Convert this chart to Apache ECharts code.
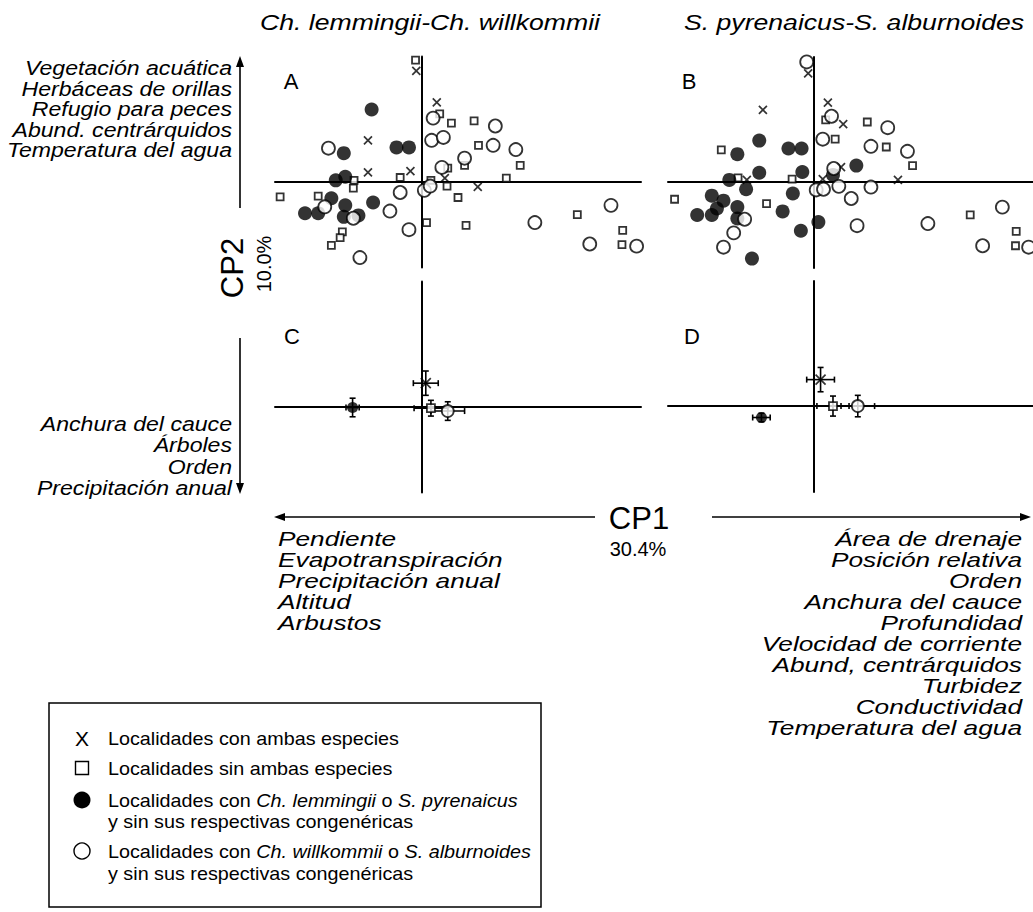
<!DOCTYPE html>
<html>
<head>
<meta charset="utf-8">
<script src="https://cdn.jsdelivr.net/npm/echarts@6/dist/echarts.min.js"></script>
<style>
html,body{margin:0;padding:0;background:#fff}
#chart{width:1033px;height:912px}
</style>
</head>
<body>
<div id="chart"></div>
<script>
// PCA scores [CP1, CP2] of each locality, Chondrostoma pair (panel A)
const aBoth = [[-0.07,1.55],[0.21,1.11],[-0.73,0.58],[-0.73,0.13],[-0.15,0.15],[0.32,0.05],[0.77,-0.07]];
const aNone = [[-0.08,1.70],[-0.92,0.02],[-0.93,-0.09],[-0.29,0.06],[0.13,0.02],[0.35,-0.06],[0.25,0.95],[0.41,0.82],[-1.93,-0.21],[-1.41,-0.20],[-1.08,-0.70],[-1.11,-0.78],[-1.23,-0.89],[0.07,-0.57],[0.36,0.19],[0.72,0.85],[0.78,0.51],[0.59,0.23],[1.35,0.23],[1.16,0.05],[0.50,-0.22],[0.61,-0.61],[2.13,-0.46],[2.75,-0.68],[2.74,-0.88]];
const aFirst = [[-0.68,1.01],[-1.06,0.40],[-0.34,0.48],[-0.17,0.48],[-1.17,0.02],[-1.04,0.07],[-1.23,-0.23],[-1.04,-0.33],[-1.59,-0.44],[-1.41,-0.44],[-1.06,-0.49],[-0.86,-0.47],[-0.66,-0.29]];
const aSecond = [[-1.27,0.47],[-1.32,-0.35],[-0.93,-0.51],[-0.43,-0.41],[-0.29,-0.15],[-0.17,-0.67],[-0.84,-1.06],[0.16,0.89],[0.14,0.58],[0.30,0.62],[0.28,0.20],[0.04,-0.12],[0.12,-0.06],[1.01,0.78],[0.98,0.51],[1.29,0.45],[0.59,0.33],[1.55,-0.57],[2.59,-0.33],[2.30,-0.87],[2.94,-0.90]];

// PCA scores [CP1, CP2] of each locality, Squalius pair (panel B)
const bBoth = [[-0.08,1.52],[-0.70,1.01],[0.19,1.11],[0.40,0.81],[-0.92,0.03],[0.12,0.04],[0.37,0.21],[1.15,0.03]];
const bNone = [[-1.27,0.45],[-1.04,0.06],[-1.91,-0.24],[-0.65,-0.30],[-0.30,0.04],[0.29,0.60],[0.16,0.87],[0.73,0.84],[0.99,0.49],[1.35,0.23],[2.14,-0.46],[2.77,-0.69],[2.76,-0.89]];
const bFirst = [[-0.75,0.58],[-1.05,0.39],[-0.35,0.47],[-0.17,0.47],[-0.75,0.13],[-0.16,0.14],[-1.16,0.03],[-0.93,-0.10],[-0.29,-0.16],[-1.40,-0.19],[-1.24,-0.26],[-1.05,-0.35],[-1.60,-0.46],[-1.40,-0.46],[-1.33,-0.37],[-1.05,-0.51],[-0.43,-0.41],[-0.18,-0.68],[0.06,-0.56],[-0.85,-1.07],[0.58,0.23],[0.26,0.10]];
const bSecond = [[-0.10,1.68],[0.24,0.92],[0.12,0.60],[0.27,0.19],[0.34,-0.06],[0.03,-0.11],[0.13,-0.10],[-0.95,-0.52],[-1.10,-0.71],[-1.24,-0.91],[0.51,-0.23],[1.01,0.76],[0.78,0.50],[1.28,0.43],[0.78,-0.07],[0.59,-0.61],[1.56,-0.58],[2.58,-0.35],[2.31,-0.89],[2.94,-0.91]];

// Group means [CP1, CP2, error CP1, error CP2] (panels C and D)
const cBoth = [0.06, 0.33, 0.17, 0.17];
const cNone = [0.13, -0.02, 0.23, 0.11];
const cFirst = [-0.94, -0.01, 0.09, 0.13];
const cSecond = [0.36, -0.06, 0.23, 0.13];
const dBoth = [0.09, 0.37, 0.19, 0.17];
const dNone = [0.26, 0.00, 0.22, 0.14];
const dFirst = [-0.72, -0.16, 0.12, 0.06];
const dSecond = [0.60, 0.00, 0.23, 0.15];

// Text
const panelTitles = ['Ch. lemmingii-Ch. willkommii', 'S. pyrenaicus-S. alburnoides'];
const panelLetters = ['A', 'B', 'C', 'D'];
const cp2PositiveVars = ['Vegetación acuática', 'Herbáceas de orillas', 'Refugio para peces', 'Abund. centrárquidos', 'Temperatura del agua'];
const cp2NegativeVars = ['Anchura del cauce', 'Árboles', 'Orden', 'Precipitación anual'];
const cp1NegativeVars = ['Pendiente', 'Evapotranspiración', 'Precipitación anual', 'Altitud', 'Arbustos'];
const cp1PositiveVars = ['Área de drenaje', 'Posición relativa', 'Orden', 'Anchura del cauce', 'Profundidad', 'Velocidad de corriente', 'Abund, centrárquidos', 'Turbidez', 'Conductividad', 'Temperatura del agua'];
const cp1Label = ['CP1', '30.4%'];
const cp2Label = ['CP2', '10.0%'];

const FONT = '"Liberation Sans", Arial, Helvetica, sans-serif';

const chart = echarts.init(document.getElementById('chart'), null, {renderer: 'svg'});

const grids = [
  {left: 275, top: 56.6, width: 366, height: 211},
  {left: 668, top: 56.9, width: 366, height: 211},
  {left: 275, top: 281.6, width: 366, height: 211},
  {left: 668, top: 280.9, width: 366, height: 211}
];

function xAx(i) {
  return {type: 'value', gridIndex: i, min: -2, max: 3,
    axisLine: {show: true, onZero: true, lineStyle: {color: '#000', width: 2}},
    axisTick: {show: false}, axisLabel: {show: false}, splitLine: {show: false}};
}
function yAx(i) {
  return {type: 'value', gridIndex: i, min: -1.2, max: 1.75,
    axisLine: {show: true, onZero: true, lineStyle: {color: '#000', width: 2}},
    axisTick: {show: false}, axisLabel: {show: false}, splitLine: {show: false}};
}

const CROSS = 'path://M0,0L10,10M10,0L0,10';
const styles = {
  none: {symbol: 'rect', size: 7, itemStyle: {color: '#fff', borderColor: '#000', borderWidth: 1.8}},
  both: {symbol: CROSS, size: 8, itemStyle: {color: 'rgba(0,0,0,0)', borderColor: '#000', borderWidth: 1.7}},
  first: {symbol: 'circle', size: 14, itemStyle: {color: '#000', borderColor: '#000', borderWidth: 0}},
  second: {symbol: 'circle', size: 13, itemStyle: {color: '#fff', borderColor: '#000', borderWidth: 1.8}}
};

function scatter(grid, data, kind, sizeOverride) {
  const s = styles[kind];
  return {type: 'scatter', xAxisIndex: grid, yAxisIndex: grid, data: data,
    symbol: s.symbol, symbolSize: sizeOverride || s.size, itemStyle: s.itemStyle,
    silent: true, animation: false, z: 3};
}

function errorBars(grid, rows) {
  return {type: 'custom', xAxisIndex: grid, yAxisIndex: grid, data: rows, silent: true, animation: false, z: 2,
    renderItem: function (params, api) {
      const x = api.value(0), y = api.value(1), ex = api.value(2), ey = api.value(3);
      const l = api.coord([x - ex, y]), r = api.coord([x + ex, y]);
      const t = api.coord([x, y + ey]), b = api.coord([x, y - ey]);
      const cap = 3;
      const st = {stroke: '#000', lineWidth: 1.6};
      const seg = (x1, y1, x2, y2) => ({type: 'line', shape: {x1, y1, x2, y2}, style: st});
      return {type: 'group', children: [
        seg(l[0], l[1], r[0], r[1]),
        seg(t[0], t[1], b[0], b[1]),
        seg(l[0], l[1] - cap, l[0], l[1] + cap),
        seg(r[0], r[1] - cap, r[0], r[1] + cap),
        seg(t[0] - cap, t[1], t[0] + cap, t[1]),
        seg(b[0] - cap, b[1], b[0] + cap, b[1])
      ]};
    }};
}

function txt(x, y, text, opt) {
  opt = opt || {};
  return {type: 'text', x: x, y: y, rotation: opt.rotation || 0, scaleX: opt.sx || 1, silent: true, z: 10,
    style: {text: text, fill: '#000', font: opt.font || ('italic 19px ' + FONT),
      textAlign: opt.align || 'left', textVerticalAlign: 'middle', rich: opt.rich}};
}
function line(x1, y1, x2, y2, w) {
  return {type: 'line', silent: true, z: 10, shape: {x1, y1, x2, y2}, style: {stroke: '#000', lineWidth: w || 1.6}};
}
function tri(points) {
  return {type: 'polygon', silent: true, z: 10, shape: {points: points}, style: {fill: '#000'}};
}

const graphics = [];
// panel titles and letters
const TF = 'italic 22px ' + FONT;
graphics.push(txt(260, 22, panelTitles[0], {font: TF, sx: 1.21}));
graphics.push(txt(684, 22, panelTitles[1], {font: TF, sx: 1.21}));
[[291, 81], [689, 81], [292, 336], [692, 336]].forEach((p, i) =>
  graphics.push(txt(p[0], p[1], panelLetters[i], {align: 'center', font: '22px ' + FONT})));

// CP2 axis arrows and variable lists
const VF = 'italic 21px ' + FONT;
graphics.push(line(240, 64, 240, 208));
graphics.push(tri([[240, 56], [236, 67], [244, 67]]));
graphics.push(line(240, 338, 240, 486));
graphics.push(tri([[240, 494], [236, 483], [244, 483]]));
cp2PositiveVars.forEach((t, i) => graphics.push(txt(232, 68 + i * 20.5, t, {align: 'right', font: VF, sx: 1.1})));
cp2NegativeVars.forEach((t, i) => graphics.push(txt(232, 424 + i * 21.3, t, {align: 'right', font: VF, sx: 1.1})));
graphics.push(txt(232, 268, cp2Label[0], {align: 'center', rotation: Math.PI / 2, font: '31px ' + FONT}));
graphics.push(txt(264, 264, cp2Label[1], {align: 'center', rotation: Math.PI / 2, font: '20px ' + FONT}));

// CP1 axis arrows and variable lists
graphics.push(line(283, 517, 595, 517));
graphics.push(tri([[274, 517], [285, 513], [285, 521]]));
graphics.push(line(712, 517, 1022, 517));
graphics.push(tri([[1031, 517], [1020, 513], [1020, 521]]));
graphics.push(txt(639, 518, cp1Label[0], {align: 'center', font: '31px ' + FONT}));
graphics.push(txt(638, 549, cp1Label[1], {align: 'center', font: '20px ' + FONT}));
cp1NegativeVars.forEach((t, i) => graphics.push(txt(278, 538 + i * 21, t, {font: VF, sx: 1.25})));
cp1PositiveVars.forEach((t, i) => graphics.push(txt(1022, 538 + i * 21, t, {align: 'right', font: VF, sx: 1.25})));

// legend box
graphics.push({type: 'rect', silent: true, z: 10, shape: {x: 49, y: 703, width: 492, height: 204},
  style: {fill: 'none', stroke: '#000', lineWidth: 1.5}});
const LF = '19px ' + FONT, LFI = 'italic 19px ' + FONT;
graphics.push(txt(82, 738, 'X', {align: 'center', font: '21px ' + FONT}));
graphics.push({type: 'rect', silent: true, z: 10, shape: {x: 75.5, y: 761.5, width: 13, height: 13},
  style: {fill: '#fff', stroke: '#000', lineWidth: 1.4}});
graphics.push({type: 'circle', silent: true, z: 10, shape: {cx: 82, cy: 800, r: 8.5}, style: {fill: '#000'}});
graphics.push({type: 'circle', silent: true, z: 10, shape: {cx: 82, cy: 851, r: 8}, style: {fill: '#fff', stroke: '#000', lineWidth: 1.4}});
const rich = {n: {font: LF, fill: '#000'}, i: {font: LFI, fill: '#000'}};
const LS = 1.04;
graphics.push(txt(108, 738, 'Localidades con ambas especies', {font: LF, sx: LS}));
graphics.push(txt(108, 768, 'Localidades sin ambas especies', {font: LF, sx: LS}));
graphics.push(txt(108, 800, '{n|Localidades con }{i|Ch. lemmingii}{n| o }{i|S. pyrenaicus}', {font: LF, rich: rich, sx: LS}));
graphics.push(txt(108, 821, 'y sin sus respectivas congenéricas', {font: LF, sx: LS}));
graphics.push(txt(108, 851, '{n|Localidades con }{i|Ch. willkommii}{n| o }{i|S. alburnoides}', {font: LF, rich: rich, sx: LS}));
graphics.push(txt(108, 873, 'y sin sus respectivas congenéricas', {font: LF, sx: LS}));

const option = {
  backgroundColor: '#fff',
  animation: false,
  grid: grids,
  xAxis: [xAx(0), xAx(1), xAx(2), xAx(3)],
  yAxis: [yAx(0), yAx(1), yAx(2), yAx(3)],
  series: [
    scatter(0, aNone, 'none'), scatter(0, aBoth, 'both'), scatter(0, aFirst, 'first'), scatter(0, aSecond, 'second'),
    scatter(1, bNone, 'none'), scatter(1, bBoth, 'both'), scatter(1, bFirst, 'first'), scatter(1, bSecond, 'second'),
    errorBars(2, [cFirst, cBoth, cNone, cSecond]),
    scatter(2, [cFirst.slice(0, 2)], 'first', 11), scatter(2, [cBoth.slice(0, 2)], 'both', 10),
    scatter(2, [cNone.slice(0, 2)], 'none', 8), scatter(2, [cSecond.slice(0, 2)], 'second', 12),
    errorBars(3, [dFirst, dBoth, dNone, dSecond]),
    scatter(3, [dFirst.slice(0, 2)], 'first', 11), scatter(3, [dBoth.slice(0, 2)], 'both', 10),
    scatter(3, [dNone.slice(0, 2)], 'none', 8), scatter(3, [dSecond.slice(0, 2)], 'second', 12)
  ],
  graphic: graphics
};
chart.setOption(option);
</script>
</body>
</html>
